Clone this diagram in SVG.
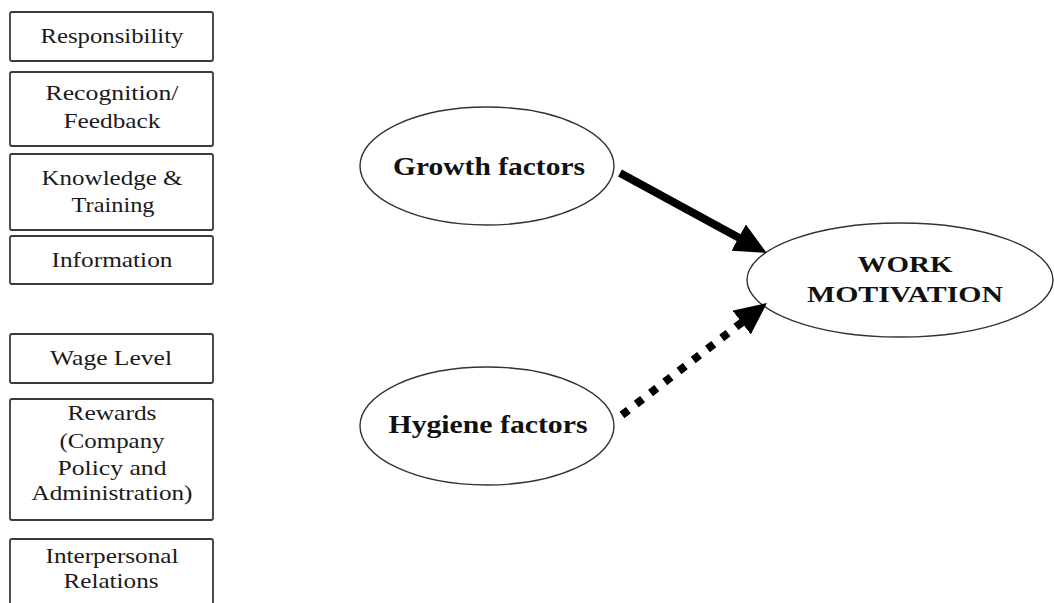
<svg xmlns="http://www.w3.org/2000/svg" width="1054" height="603" viewBox="0 0 1054 603">
<style>
.box{fill:#fff;stroke:#3a3a3a;stroke-width:1.8}
.ell{fill:#fff;stroke:#333;stroke-width:1.4}
.bt{font-family:"Liberation Serif",serif;font-size:21px;fill:#1a1a1a;text-anchor:middle}
.et{font-family:"Liberation Serif",serif;font-weight:bold;font-size:25px;fill:#111;text-anchor:middle}
.wt{font-family:"Liberation Serif",serif;font-weight:bold;font-size:23px;fill:#111;text-anchor:middle}
</style>
<defs>
<marker id="ah" markerUnits="userSpaceOnUse" viewBox="0 0 32 30" refX="5" refY="15" markerWidth="32" markerHeight="30" orient="auto">
<path d="M0,0 L32,15 L0,30 z" fill="#000"/>
</marker>
</defs>
<rect width="1054" height="603" fill="#fff"/>
<g id="responsibility"><rect class="box" x="10" y="12" width="203" height="49" rx="2"/><text class="bt" x="112" y="43" textLength="143" lengthAdjust="spacingAndGlyphs">Responsibility</text></g>
<g id="recognition"><rect class="box" x="10" y="72" width="203" height="74" rx="2"/><text class="bt" x="112" y="100" textLength="133" lengthAdjust="spacingAndGlyphs">Recognition/</text><text class="bt" x="112" y="128" textLength="97" lengthAdjust="spacingAndGlyphs">Feedback</text></g>
<g id="knowledge"><rect class="box" x="10" y="154" width="203" height="76" rx="2"/><text class="bt" x="112" y="185" textLength="141" lengthAdjust="spacingAndGlyphs">Knowledge &amp;</text><text class="bt" x="113" y="212" textLength="83" lengthAdjust="spacingAndGlyphs">Training</text></g>
<g id="information"><rect class="box" x="10" y="236" width="203" height="48" rx="2"/><text class="bt" x="112" y="267" textLength="121" lengthAdjust="spacingAndGlyphs">Information</text></g>
<g id="wage"><rect class="box" x="10" y="334" width="203" height="49" rx="2"/><text class="bt" x="111" y="365" textLength="122" lengthAdjust="spacingAndGlyphs">Wage Level</text></g>
<g id="rewards"><rect class="box" x="10" y="399" width="203" height="121" rx="2"/><text class="bt" x="112" y="420" textLength="89" lengthAdjust="spacingAndGlyphs">Rewards</text><text class="bt" x="112" y="448" textLength="105" lengthAdjust="spacingAndGlyphs">(Company</text><text class="bt" x="112" y="475" textLength="109" lengthAdjust="spacingAndGlyphs">Policy and</text><text class="bt" x="112" y="500" textLength="161" lengthAdjust="spacingAndGlyphs">Administration)</text></g>
<g id="interpersonal"><rect class="box" x="10" y="539" width="203" height="75" rx="2"/><text class="bt" x="112" y="563" textLength="133" lengthAdjust="spacingAndGlyphs">Interpersonal</text><text class="bt" x="111" y="588" textLength="95" lengthAdjust="spacingAndGlyphs">Relations</text></g>
<g id="growth"><ellipse class="ell" cx="487" cy="166" rx="127" ry="59"/><text class="et" x="489" y="175" textLength="192" lengthAdjust="spacingAndGlyphs">Growth factors</text></g>
<g id="hygiene"><ellipse class="ell" cx="487" cy="426" rx="127" ry="59"/><text class="et" x="488" y="433" textLength="199" lengthAdjust="spacingAndGlyphs">Hygiene factors</text></g>
<g id="work"><ellipse class="ell" cx="900" cy="280" rx="153" ry="57"/><text class="wt" x="905" y="272" textLength="95" lengthAdjust="spacingAndGlyphs">WORK</text><text class="wt" x="905" y="302" textLength="196" lengthAdjust="spacingAndGlyphs">MOTIVATION</text></g>
<g id="connectors">
<line x1="620" y1="173" x2="743" y2="240" stroke="#000" stroke-width="8" marker-end="url(#ah)"/>
<line x1="622" y1="415" x2="745.6" y2="319.5" stroke="#000" stroke-width="8" stroke-dasharray="8 10" marker-end="url(#ah)"/>
</g>
</svg>
